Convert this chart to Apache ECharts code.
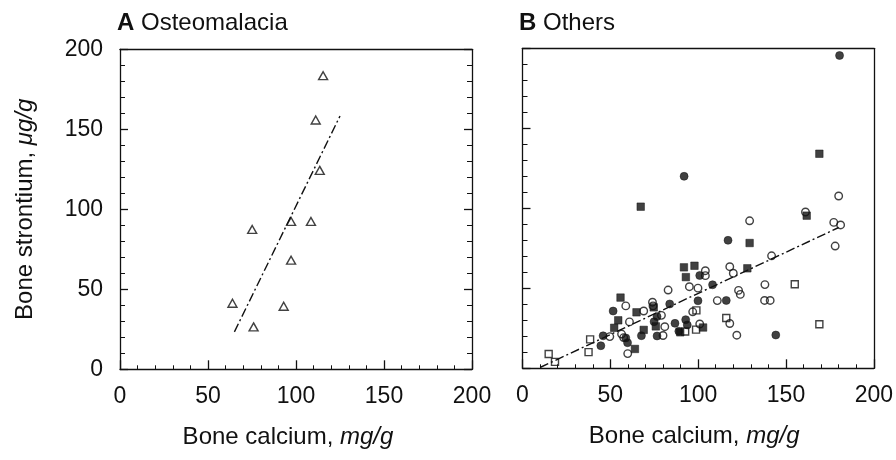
<!DOCTYPE html>
<html><head><meta charset="utf-8">
<script src="https://cdn.jsdelivr.net/npm/echarts@6/dist/echarts.min.js"></script>
<style>html,body{margin:0;padding:0;background:#fff}#c{width:896px;height:460px}</style>
</head><body><div id="c"></div>
<script>
// Panel A: osteomalacia (calcium mg/g, strontium µg/g)
const osteomalacia = [[115.4,183.5],[111.2,155.8],[113.5,124.3],[97.2,92.4],[108.5,92.4],[75.1,87.4],[97.2,68.2],[63.9,41.3],[93.0,39.4],[75.9,26.5]];
const fitA = [[65,23.4],[125,158.3]];
// Panel B: others
const filledCircles = [[92,120],[180.5,195.5],[117,80],[51.6,35.8],[45.9,20.3],[44.6,14.1],[58.8,19],[59.8,16],[67.7,20.4],[76.6,20.2],[74.9,29.1],[76.6,32.3],[83.8,40.2],[86.8,28.1],[92.9,30.4],[93.8,27.1],[89,23.2],[99.9,42.2],[100.9,58],[108.2,52.2],[116,42.4],[144.2,20.8]];
const filledSquares = [[67.3,101],[169,134.1],[161.8,95.4],[129.3,78.3],[128,62.5],[55.8,44.2],[54.5,30],[52.2,25.3],[64.9,35],[69,24],[64,12.1],[74.7,38.1],[75.9,26.2],[91.9,63.1],[97.9,64.1],[93,57],[89.8,22.5],[102.8,25.5]];
const openCircles = [[180,107.7],[161.1,97.7],[129.3,92.2],[177.2,91.2],[181.1,89.6],[178,76.4],[141.8,70.3],[118,63.5],[120,59.4],[104.1,61],[104.1,57.9],[123,48.7],[124,46.2],[138,52.3],[110.9,42.3],[137.8,42.4],[141,42.4],[118,28],[122,20.7],[58.8,39],[60.9,29],[49.7,19.8],[56.4,21.4],[57.6,19.2],[59.9,9.2],[69,35.8],[74,41.3],[74.3,39],[79.1,33.1],[81,26],[80,20.5],[82.9,48.9],[95,51],[99.9,50.1],[96.9,35.3],[100.9,27.7]];
const openSquares = [[14.9,8.9],[18.5,4],[38.5,18.1],[37.6,10.1],[99,36.2],[98.8,24.2],[92.6,23],[116,31.4],[155,52.5],[169,27.5]];
const fitB = [[10,0.5],[180,88]];
const axisMin = 0, axisMax = 200, axisStep = 50;

const FONT = 'Liberation Sans, Arial, Helvetica, sans-serif';
const INK = '#111';
const chart = echarts.init(document.getElementById('c'), null, {renderer:'canvas'});

function xAxisMain(gi, shift){
  return {type:'value', gridIndex:gi, min:axisMin, max:axisMax, interval:axisStep, position:'bottom',
    axisLine:{show:true, onZero:false, lineStyle:{color:INK, width:1.3}},
    axisTick:{show:true, inside:true, length:9, lineStyle:{color:INK, width:1.3}},
    minorTick:{show:true, splitNumber:5, length:4, lineStyle:{color:INK, width:1}},
    splitLine:{show:false},
    axisLabel:{show:true, margin:16, fontSize:23, color:INK, fontFamily:FONT},
    name:'Bone calcium, {i|mg/g}', nameLocation:'middle', nameGap:56,
    nameTextStyle:{fontSize:24, color:INK, fontFamily:FONT, padding:[0,shift,0,0],
      rich:{i:{fontStyle:'italic', fontSize:24, color:INK, fontFamily:FONT}}}
  };
}
function xAxisTop(gi){
  return {type:'value', gridIndex:gi, min:axisMin, max:axisMax, position:'top',
    axisLine:{show:true, onZero:false, lineStyle:{color:INK, width:1.3}},
    axisTick:{show:false}, axisLabel:{show:false}, splitLine:{show:false}};
}
function yAxisLeft(gi, labels){
  const ax = {type:'value', gridIndex:gi, min:axisMin, max:axisMax, interval:axisStep, position:'left',
    axisLine:{show:true, onZero:false, lineStyle:{color:INK, width:1.3}},
    axisTick:{show:true, inside:true, length:8, lineStyle:{color:INK, width:1.3}},
    minorTick:{show:true, splitNumber:5, length:5, lineStyle:{color:INK, width:1}},
    splitLine:{show:false},
    axisLabel:{show:labels, margin:17, fontSize:23, color:INK, fontFamily:FONT}
  };
  if (labels) {
    ax.name = 'Bone strontium, {i|μg/g}';
    ax.nameLocation = 'middle';
    ax.nameGap = 83;
    ax.nameTextStyle = {fontSize:24, color:INK, fontFamily:FONT,
      rich:{i:{fontStyle:'italic', fontSize:24, color:INK, fontFamily:FONT}}};
  }
  return ax;
}
function yAxisRight(gi, ticks){
  return {type:'value', gridIndex:gi, min:axisMin, max:axisMax, interval:axisStep, position:'right',
    axisLine:{show:true, onZero:false, lineStyle:{color:INK, width:1.3}},
    axisTick:{show:ticks, inside:true, length:8, lineStyle:{color:INK, width:1.3}},
    minorTick:{show:ticks, splitNumber:5, length:5, lineStyle:{color:INK, width:1}},
    splitLine:{show:false}, axisLabel:{show:false}};
}

function scatter(data, xi, yi, symbol, size, filled){
  return {type:'scatter', xAxisIndex:xi, yAxisIndex:yi, data:data, symbol:symbol, symbolSize:size,
    silent:true, z:3,
    itemStyle: filled ? {color:INK, borderColor:INK, borderWidth:0.6} : {color:'rgba(255,255,255,0)', borderColor:INK, borderWidth:1.4}};
}
function fitLine(data, xi, yi){
  return {type:'line', xAxisIndex:xi, yAxisIndex:yi, data:data, symbol:'none', silent:true, z:2,
    lineStyle:{color:INK, width:1.4, type:[9,3,2,3]}};
}

chart.setOption({
  animation:false,
  backgroundColor:'#fff',
  title:[
    {left:112, top:6, text:'{b|A} Osteomalacia',
      textStyle:{fontSize:24, fontWeight:'normal', color:INK, fontFamily:FONT,
        rich:{b:{fontWeight:'bold', fontSize:24, color:INK, fontFamily:FONT}}}},
    {left:514, top:6, text:'{b|B} Others',
      textStyle:{fontSize:24, fontWeight:'normal', color:INK, fontFamily:FONT,
        rich:{b:{fontWeight:'bold', fontSize:24, color:INK, fontFamily:FONT}}}}
  ],
  grid:[
    {left:120, top:49.3, width:352, height:320},
    {left:522.5, top:48.3, width:353, height:320}
  ],
  xAxis:[xAxisMain(0,16), xAxisTop(0), xAxisMain(1,8), xAxisTop(1)],
  yAxis:[yAxisLeft(0,true), yAxisRight(0,true), yAxisLeft(1,false), yAxisRight(1,false)],
  series:[
    fitLine(fitA, 0, 0),
    scatter(osteomalacia, 0, 0, 'triangle', [9,8], false),
    fitLine(fitB, 2, 2),
    scatter(openCircles, 2, 2, 'circle', 7.5, false),
    scatter(openSquares, 2, 2, 'rect', 7, false),
    scatter(filledCircles, 2, 2, 'circle', 8, true),
    scatter(filledSquares, 2, 2, 'rect', 7.5, true)
  ]
});
</script></body></html>
